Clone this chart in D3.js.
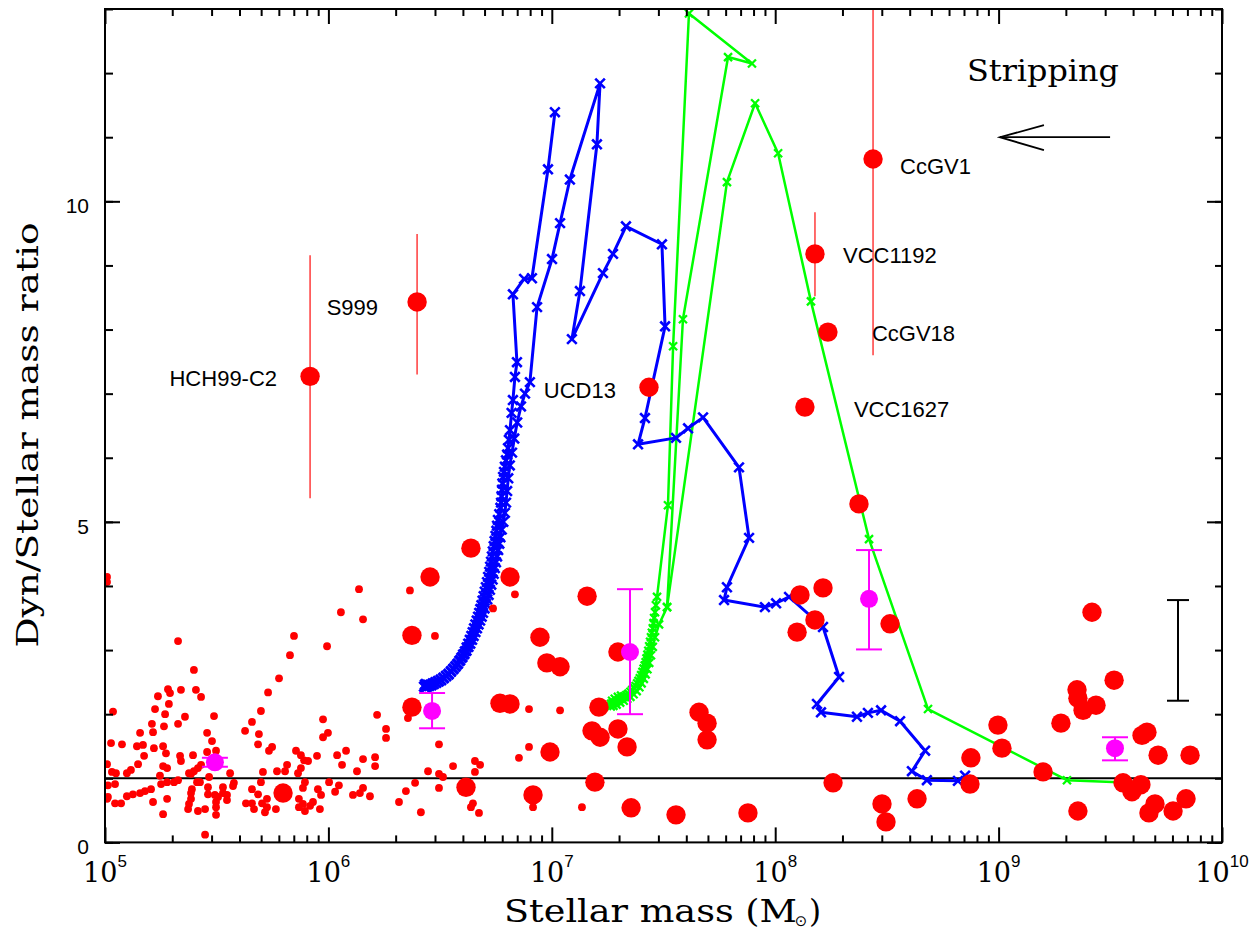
<!DOCTYPE html>
<html><head><meta charset="utf-8">
<script src="https://cdn.jsdelivr.net/npm/d3@7/dist/d3.min.js"></script>
<style>body{margin:0;background:#fff}</style>
</head><body><svg id="c" width="1256" height="931"></svg>
<script>
// ---------------- DATA (log10 stellar mass, dyn/stellar mass ratio) ----------------
const xTickExponents = [5, 6, 7, 8, 9, 10];
const yTickLabels = [0, 5, 10];

const namedNames = ["HCH99-C2", "S999", "UCD13", "CcGV1", "VCC1192", "CcGV18", "VCC1627"];
const namedLogM  = [5.918, 6.397, 7.435, 8.438, 8.178, 8.236, 8.133];
const namedRatio = [7.27, 8.43, 7.10, 10.66, 9.18, 7.96, 6.79];
const namedErrLo = [5.37, 7.30, null, 7.60, 8.52, null, null];
const namedErrHi = [9.16, 9.49, null, 14.0, 9.83, null, null];

const bigRed = [
  [6.638,4.59],[6.455,4.14],[6.813,4.14],[6.374,3.23],[6.374,2.11],[5.797,0.77],[6.616,0.86],
  [7.158,3.84],[7.296,2.97],[6.947,3.20],[6.978,2.80],[7.037,2.74],[6.768,2.17],[6.813,2.16],
  [6.992,1.41],[6.916,0.74],[7.193,0.94],[7.355,0.54],[7.556,0.43],[7.878,0.46],[7.211,2.11],
  [7.180,1.74],[7.216,1.64],[7.296,1.77],[7.337,1.49],[7.659,2.03],[7.695,1.86],[7.695,1.60],
  [8.098,3.28],[8.178,3.47],[8.111,3.86],[8.214,3.97],[8.375,5.28],[8.514,3.41],[8.259,0.93],
  [8.876,1.32],[8.872,0.91],[9.418,3.59],[9.517,2.53],[9.351,2.38],[9.355,2.25],[9.378,2.06],
  [9.436,2.14],[9.279,1.86],[8.997,1.83],[9.015,1.47],[9.199,1.10],[8.478,0.60],[8.496,0.32],
  [8.635,0.68],[9.355,0.49],[9.557,0.93],[9.597,0.79],[9.637,0.90],[9.642,1.67],[9.664,1.72],
  [9.714,1.36],[9.857,1.36],[9.700,0.60],[9.673,0.46],[9.781,0.49],[9.839,0.68]
];

const smallRed = [
  [6.056,3.59],[6.155,3.48],[6.137,3.95],[6.365,3.93],[6.835,3.87],[6.737,3.65],[6.477,3.22],[5.327,3.14],
  [5.994,3.06],[5.846,3.22],[5.828,2.92],[5.398,2.69],[5.779,2.56],[5.730,2.34],[5.282,2.39],[5.291,2.33],
  [5.340,2.38],[5.407,2.38],[5.430,2.27],[5.237,2.28],[5.286,2.16],[5.698,2.05],[5.036,2.04],[5.224,2.08],
  [5.269,2.00],[5.358,1.96],[5.488,1.97],[5.976,1.92],[6.218,1.99],[6.356,1.94],[5.327,1.85],[5.210,1.85],
  [5.658,1.88],[5.264,1.81],[5.627,1.74],[6.258,1.77],[5.157,1.71],[5.457,1.71],[5.215,1.72],[5.689,1.69],
  [5.998,1.71],[5.976,1.64],[6.258,1.63],[5.027,1.55],[5.076,1.53],[5.143,1.50],[5.170,1.52],[5.685,1.53],
  [5.260,1.50],[5.479,1.58],[5.219,1.47],[5.748,1.49],[5.734,1.43],[6.079,1.43],[5.855,1.43],[5.877,1.36],
  [5.273,1.39],[5.457,1.41],[5.497,1.43],[5.175,1.35],[5.336,1.35],[5.340,1.27],[5.394,1.36],[5.949,1.35],
  [6.039,1.36],[6.209,1.33],[5.891,1.28],[5.909,1.27],[6.155,1.30],[5.009,1.22],[5.148,1.22],[5.260,1.19],
  [5.278,1.16],[5.430,1.21],[5.416,1.16],[5.398,1.11],[6.061,1.21],[6.209,1.19],[5.815,1.21],[5.877,1.16],
  [5.806,1.11],[5.031,1.10],[5.049,1.08],[5.098,1.08],[5.116,1.13],[5.376,1.08],[5.385,1.07],[5.560,1.08],
  [5.707,1.10],[5.770,1.11],[5.864,1.08],[6.128,1.11],[5.246,1.04],[5.327,0.97],[5.309,0.94],[5.466,1.02],
  [5.278,0.94],[5.412,0.94],[5.425,0.94],[5.251,0.91],[5.577,0.93],[5.698,0.94],[5.895,0.94],[5.045,0.91],
  [5.013,0.89],[6.003,0.94],[6.047,0.89],[6.388,0.93],[5.389,0.83],[5.461,0.86],[5.528,0.86],[5.573,0.88],
  [5.658,0.83],[5.886,0.85],[5.953,0.83],[6.155,0.85],[6.347,0.80],[6.030,0.79],[5.385,0.77],[5.461,0.75],
  [5.492,0.74],[5.528,0.77],[5.546,0.74],[5.685,0.75],[5.967,0.74],[6.110,0.74],[6.141,0.77],[6.186,0.72],
  [5.013,0.71],[5.009,0.68],[5.098,0.72],[5.125,0.75],[5.157,0.77],[5.179,0.80],[5.206,0.83],[5.278,0.68],
  [5.385,0.68],[5.506,0.71],[5.546,0.66],[5.631,0.61],[5.658,0.61],[5.725,0.68],[5.868,0.68],[5.886,0.60],
  [5.931,0.63],[5.918,0.57],[6.316,0.63],[5.045,0.61],[5.072,0.61],[5.215,0.63],[5.376,0.60],[5.497,0.63],
  [5.703,0.61],[5.725,0.55],[5.372,0.52],[5.416,0.49],[5.448,0.52],[5.497,0.55],[5.667,0.52],[5.765,0.52],
  [5.868,0.55],[5.895,0.49],[5.962,0.52],[5.260,0.44],[5.497,0.43],[5.716,0.47],[6.414,0.47],[5.448,0.12],
  [6.898,2.08],[7.037,2.06],[6.495,1.53],[6.898,1.49],[6.853,1.32],[6.558,1.19],[6.446,1.11],[6.656,1.27],
  [6.679,1.21],[6.656,1.10],[6.495,1.07],[6.513,1.02],[6.495,0.85],[6.647,0.61],[6.638,0.55],[6.674,0.46],
  [6.916,0.55],[7.135,0.55],[5.009,4.14],[5.009,4.06]
];

const meanLogM  = [5.492, 6.464, 7.350, 8.420, 9.521];
const meanRatio = [1.25, 2.05, 2.97, 3.80, 1.47];
const meanErrLo = [1.18, 1.78, 2.00, 3.01, 1.28];
const meanErrHi = [1.32, 2.33, 3.95, 4.56, 1.64];

const typicalErrLogM = 9.803;
const typicalErrRange = [2.21, 3.78];

const blueTrack1 = [
  [8.850,1.04],[8.818,0.96],[8.679,0.97],[8.612,1.11],[8.671,1.43],[8.559,1.89],[8.474,2.06],[8.415,2.02],
  [8.366,1.96],[8.205,2.03],[8.187,2.16],[8.286,2.58],[8.214,3.36],[8.062,3.83],[8.004,3.73],[7.954,3.67],
  [7.771,3.78],[7.784,3.98],[7.883,4.75],[7.838,5.85],[7.677,6.63],[7.610,6.46],[7.556,6.31],[7.386,6.21],
  [7.417,6.62],[7.507,8.05],[7.493,9.33],[7.332,9.61],[7.274,9.18],[7.229,8.88],[7.090,7.85],[7.126,8.60],
  [7.202,10.89],[7.216,11.84],[7.081,10.34],[7.037,9.66],[7.001,9.10],[6.934,8.35],[6.902,7.18],
  [6.880,7.00],[6.862,6.80],[6.845,6.55],[6.832,6.30],[6.822,6.08],[6.812,5.88],[6.805,5.68],[6.800,5.48],
  [6.795,5.30],[6.790,5.14],[6.783,5.00],[6.776,4.88],[6.770,4.76],[6.765,4.66],[6.760,4.56],[6.755,4.46],
  [6.750,4.37],[6.745,4.28],[6.740,4.19],[6.735,4.10],[6.729,4.02],[6.723,3.94],[6.717,3.86],[6.711,3.79],
  [6.705,3.72],[6.699,3.65],[6.692,3.58],[6.686,3.52],[6.679,3.46],[6.672,3.40],[6.665,3.34],[6.658,3.28],
  [6.650,3.22],[6.643,3.16],[6.635,3.10],[6.627,3.05],[6.618,2.99],[6.609,2.94],[6.600,2.89],[6.590,2.84],
  [6.580,2.79],[6.570,2.75],[6.560,2.71],[6.549,2.67],[6.538,2.63],[6.527,2.60],[6.515,2.57],[6.503,2.54],
  [6.491,2.52],[6.479,2.50],[6.467,2.48],[6.456,2.46],[6.446,2.45],[6.438,2.44],[6.432,2.46]
];
const blueTrack2 = [
  [7.014,11.39],[6.983,10.50],[6.911,8.80],[6.876,8.79],[6.826,8.55],[6.844,7.49],[6.835,7.26],
  [6.826,6.90],[6.820,6.70],[6.813,6.43],[6.808,6.28],[6.804,6.15],[6.800,6.05],[6.795,5.96],[6.790,5.86],
  [6.786,5.78],[6.782,5.70],[6.779,5.60],[6.777,5.50],[6.775,5.40],[6.773,5.30],[6.770,5.22],[6.765,5.12],
  [6.759,5.03],[6.755,4.94],[6.752,4.86],[6.748,4.78],[6.744,4.70],[6.740,4.62],[6.736,4.54],[6.732,4.46],
  [6.728,4.38],[6.724,4.30],[6.720,4.22],[6.715,4.14],[6.710,4.06],[6.705,3.98],[6.700,3.91],[6.695,3.84],
  [6.690,3.77],[6.685,3.70],[6.680,3.64],[6.675,3.58],[6.670,3.52],[6.664,3.46],[6.658,3.40],[6.652,3.34],
  [6.646,3.28],[6.640,3.22],[6.633,3.16],[6.626,3.10],[6.619,3.04],[6.611,2.98],[6.603,2.93],[6.595,2.88],
  [6.586,2.83],[6.577,2.78],[6.568,2.74],[6.558,2.70],[6.548,2.66],[6.538,2.62],[6.527,2.59],[6.516,2.56],
  [6.505,2.53],[6.494,2.51],[6.483,2.49],[6.472,2.47],[6.461,2.45],[6.451,2.44],[6.442,2.43],[6.434,2.42],
  [6.428,2.43],[6.436,2.47],[6.445,2.46]
];
const greenTrack1 = [
  [9.597,0.93],[9.306,0.97],[8.684,2.08],[8.420,4.73],[8.160,8.44],[8.013,10.75],[7.910,11.53],[7.784,10.30],
  [7.516,3.67],[7.480,3.40],[7.462,3.20],[7.452,3.05],[7.444,2.92],[7.436,2.80],[7.428,2.70],[7.420,2.62],
  [7.412,2.55],[7.402,2.48],[7.392,2.42],[7.380,2.36],[7.366,2.31],[7.352,2.27],[7.338,2.24],[7.322,2.21],
  [7.306,2.18],[7.290,2.15],[7.276,2.13],[7.264,2.12]
];
const greenTrack2 = [
  [7.516,3.67],[7.587,8.16],[7.789,12.25],[7.896,12.15],[7.614,12.93],[7.543,7.74],[7.520,5.26],[7.471,3.83],
  [7.466,3.70],[7.462,3.59],[7.458,3.50],[7.455,3.42],[7.452,3.34],[7.448,3.27],[7.444,3.20],[7.440,3.13],
  [7.436,3.06],[7.432,2.99],[7.428,2.93],[7.424,2.87],[7.420,2.81],[7.416,2.76],[7.411,2.71],[7.406,2.66],
  [7.400,2.61],[7.394,2.56],[7.388,2.52],[7.382,2.48],[7.375,2.44],[7.368,2.41],[7.360,2.38],[7.352,2.35],
  [7.343,2.32],[7.334,2.30],[7.325,2.28],[7.316,2.26],[7.307,2.24],[7.298,2.22],[7.289,2.20],[7.280,2.18],
  [7.272,2.17],[7.265,2.16],[7.270,2.21],[7.282,2.24],[7.296,2.27],[7.310,2.29]
];

const arrowFrom = [9.499, 11.0];
const arrowTo   = [9.006, 11.0];
const unityRatio = 1;

// ---------------- LAYOUT / STYLE ----------------
const W = 1256, H = 931;
const M = {l: 105, r: 1222, t: 9, b: 842.4};
const labelStyle = [
  ["end", -33, 10], ["end", -39, 13], ["end", -33, 11], ["start", 27, 15],
  ["start", 28, 9], ["start", 44, 9], ["start", 49, 10]
];

const x = d3.scaleLog().domain([1e5, 1e10]).range([M.l, M.r]);
const y = d3.scaleLinear().domain([0, 13]).range([M.b, M.t]);
const X = lm => x(Math.pow(10, lm));

const svg = d3.select("#c");
svg.append("rect").attr("width", W).attr("height", H).attr("fill", "#fff");
svg.append("defs").append("clipPath").attr("id", "clip").append("rect")
  .attr("x", M.l).attr("y", M.t).attr("width", M.r - M.l).attr("height", M.b - M.t);
const plot = svg.append("g").attr("clip-path", "url(#clip)");

// red error bars for named objects
namedNames.forEach((n, i) => {
  if (namedErrLo[i] == null) return;
  plot.append("line").attr("x1", X(namedLogM[i])).attr("x2", X(namedLogM[i]))
    .attr("y1", y(namedErrLo[i])).attr("y2", y(namedErrHi[i]))
    .attr("stroke", "#ff3b3b").attr("stroke-width", 1.5);
});

// unity line
plot.append("line").attr("x1", M.l).attr("x2", M.r).attr("y1", y(unityRatio)).attr("y2", y(unityRatio))
  .attr("stroke", "#000").attr("stroke-width", 2);

// tracks
const line = d3.line().x(d => X(d[0])).y(d => y(d[1]));
function xPath(s) { return `M${-s},${-s}L${s},${s}M${-s},${s}L${s},${-s}`; }
function drawTrack(data, color, lw, ms, mw) {
  plot.append("path").datum(data).attr("d", line).attr("fill", "none")
    .attr("stroke", color).attr("stroke-width", lw).attr("stroke-linejoin", "round");
  plot.append("g").selectAll("path").data(data).join("path")
    .attr("transform", d => `translate(${X(d[0])},${y(d[1])})`)
    .attr("d", xPath(ms)).attr("stroke", color).attr("stroke-width", mw).attr("fill", "none");
}
drawTrack(greenTrack1, "#00ff00", 2.5, 4, 2.3);
drawTrack(greenTrack2, "#00ff00", 2.5, 4, 2.3);
drawTrack(blueTrack1, "#0000ff", 3, 4.8, 2.6);
drawTrack(blueTrack2, "#0000ff", 3, 4.8, 2.6);

// small red dots
plot.append("g").selectAll("circle").data(smallRed).join("circle")
  .attr("cx", d => X(d[0])).attr("cy", d => y(d[1])).attr("r", 3.9).attr("fill", "#ff0000");
// big red dots
plot.append("g").selectAll("circle").data(bigRed).join("circle")
  .attr("cx", d => X(d[0])).attr("cy", d => y(d[1])).attr("r", 9.7).attr("fill", "#ff0000");
plot.append("g").selectAll("circle").data(namedNames).join("circle")
  .attr("cx", (d, i) => X(namedLogM[i])).attr("cy", (d, i) => y(namedRatio[i])).attr("r", 9.7).attr("fill", "#ff0000");

// magenta means with error bars
meanLogM.forEach((lm, i) => {
  const cx = X(lm), g = plot.append("g").attr("stroke", "#ff00ff").attr("stroke-width", 2);
  g.append("line").attr("x1", cx).attr("x2", cx).attr("y1", y(meanErrLo[i])).attr("y2", y(meanErrHi[i]));
  g.append("line").attr("x1", cx - 13).attr("x2", cx + 13).attr("y1", y(meanErrLo[i])).attr("y2", y(meanErrLo[i]));
  g.append("line").attr("x1", cx - 13).attr("x2", cx + 13).attr("y1", y(meanErrHi[i])).attr("y2", y(meanErrHi[i]));
  plot.append("circle").attr("cx", cx).attr("cy", y(meanRatio[i])).attr("r", 9).attr("fill", "#ff00ff");
});

// typical error bar
{
  const cx = X(typicalErrLogM), g = plot.append("g").attr("stroke", "#000").attr("stroke-width", 2);
  g.append("line").attr("x1", cx).attr("x2", cx).attr("y1", y(typicalErrRange[0])).attr("y2", y(typicalErrRange[1]));
  typicalErrRange.forEach(v => g.append("line").attr("x1", cx - 11).attr("x2", cx + 11).attr("y1", y(v)).attr("y2", y(v)));
}

// stripping arrow
{
  const tx = X(arrowTo[0]), ty = y(arrowTo[1]);
  const g = svg.append("g").attr("stroke", "#000").attr("stroke-width", 1.8).attr("fill", "none");
  g.append("line").attr("x1", X(arrowFrom[0])).attr("x2", tx).attr("y1", y(arrowFrom[1])).attr("y2", ty);
  g.append("path").attr("d", `M${tx + 44},${ty - 12}L${tx},${ty}L${tx + 44},${ty + 13}`);
}
svg.append("text").attr("x", 967).attr("y", 81).attr("font-family", "DejaVu Serif")
  .attr("font-size", 29).attr("textLength", 152).attr("lengthAdjust", "spacingAndGlyphs").text("Stripping");

// labels
namedNames.forEach((n, i) => {
  svg.append("text").attr("x", X(namedLogM[i]) + labelStyle[i][1]).attr("y", y(namedRatio[i]) + labelStyle[i][2])
    .attr("text-anchor", labelStyle[i][0]).attr("font-family", "Liberation Sans, Arial, sans-serif")
    .attr("font-size", 22).attr("fill", "#000").text(n);
});

// axes ticks (inside)
const xMinor = [];
for (let e = 5; e < 10; e++) for (let k = 2; k <= 9; k++) xMinor.push(k * Math.pow(10, e));
const xMajor = xTickExponents.map(e => Math.pow(10, e));
const yMinor = d3.range(0, 14);
function clean(g) {
  g.select(".domain").remove();
  g.selectAll("text").remove();
  g.selectAll("line").attr("stroke", "#000").attr("stroke-width", 2);
}
svg.append("g").attr("transform", `translate(0,${M.b})`).call(d3.axisBottom(x).tickValues(xMinor).tickSize(-7)).call(clean);
svg.append("g").attr("transform", `translate(0,${M.b})`).call(d3.axisBottom(x).tickValues(xMajor).tickSize(-15)).call(clean);
svg.append("g").attr("transform", `translate(0,${M.t})`).call(d3.axisTop(x).tickValues(xMinor).tickSize(-7)).call(clean);
svg.append("g").attr("transform", `translate(0,${M.t})`).call(d3.axisTop(x).tickValues(xMajor).tickSize(-15)).call(clean);
svg.append("g").attr("transform", `translate(${M.l},0)`).call(d3.axisLeft(y).tickValues(yMinor).tickSize(-8)).call(clean);
svg.append("g").attr("transform", `translate(${M.l},0)`).call(d3.axisLeft(y).tickValues(yTickLabels).tickSize(-15)).call(clean);
svg.append("g").attr("transform", `translate(${M.r},0)`).call(d3.axisRight(y).tickValues(yMinor).tickSize(-7)).call(clean);
svg.append("g").attr("transform", `translate(${M.r},0)`).call(d3.axisRight(y).tickValues(yTickLabels).tickSize(-15)).call(clean);

// frame
svg.append("rect").attr("x", M.l).attr("y", M.t).attr("width", M.r - M.l).attr("height", M.b - M.t)
  .attr("fill", "none").attr("stroke", "#000").attr("stroke-width", 2);

// tick labels
yTickLabels.forEach(v => {
  svg.append("text").attr("x", 89).attr("y", y(v) + 12).attr("text-anchor", "end")
    .attr("font-family", "Liberation Sans, Arial, sans-serif").attr("font-size", 21).text(v);
});
xTickExponents.forEach(e => {
  const t = svg.append("text").attr("x", x(Math.pow(10, e))).attr("y", 882).attr("text-anchor", "middle");
  t.append("tspan").attr("font-family", "DejaVu Serif").attr("font-size", 27).text("10");
  t.append("tspan").attr("font-family", "Liberation Sans, Arial, sans-serif").attr("font-size", 17)
    .attr("dy", -15).text(e);
});

// axis titles
svg.append("text").attr("x", 504).attr("y", 922).attr("font-family", "DejaVu Serif").attr("font-size", 31)
  .attr("textLength", 293).attr("lengthAdjust", "spacingAndGlyphs").text("Stellar mass (M");
svg.append("text").attr("x", 801).attr("y", 926).attr("text-anchor", "middle").attr("font-family", "DejaVu Sans")
  .attr("font-size", 15).text("\u2299");
svg.append("text").attr("x", 809).attr("y", 922).attr("font-family", "DejaVu Serif").attr("font-size", 31).text(")");
svg.append("text").attr("transform", "translate(38,435) rotate(-90)").attr("text-anchor", "middle")
  .attr("font-family", "DejaVu Serif").attr("font-size", 30)
  .attr("textLength", 425).attr("lengthAdjust", "spacingAndGlyphs").text("Dyn/Stellar mass ratio");
</script></body></html>
